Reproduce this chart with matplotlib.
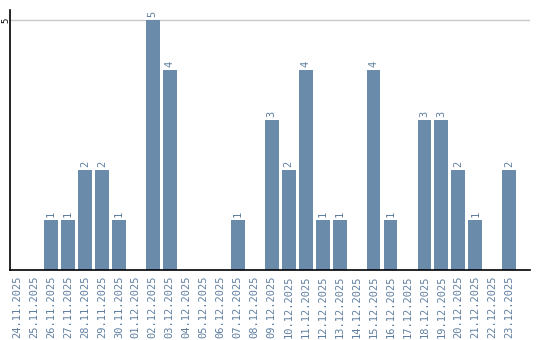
import matplotlib
matplotlib.use("Agg")
import matplotlib.pyplot as plt

dates = ['24.11.2025', '25.11.2025', '26.11.2025', '27.11.2025', '28.11.2025',
         '29.11.2025', '30.11.2025', '01.12.2025', '02.12.2025', '03.12.2025',
         '04.12.2025', '05.12.2025', '06.12.2025', '07.12.2025', '08.12.2025',
         '09.12.2025', '10.12.2025', '11.12.2025', '12.12.2025', '13.12.2025',
         '14.12.2025', '15.12.2025', '16.12.2025', '17.12.2025', '18.12.2025',
         '19.12.2025', '20.12.2025', '21.12.2025', '22.12.2025', '23.12.2025']
counts = [0, 0, 1, 1, 2, 2, 1, 0, 5, 4,
          0, 0, 0, 1, 0, 3, 2, 4, 1, 1,
          0, 4, 1, 0, 3, 3, 2, 1, 0, 2]

bar_color = '#6a8caa'
label_color = '#5f7fa0'

fig = plt.figure(figsize=(5.4, 3.4), dpi=100)
ax = fig.add_axes([0.0185, 0.206, 0.9625, 0.764])

x = list(range(len(dates)))
ax.bar(x, counts, width=0.82, color=bar_color, zorder=2)

# подписи значений над столбцами
for xi, c in zip(x, counts):
    if c > 0:
        ax.text(xi, c + 0.06, str(c), rotation=90, ha='center', va='bottom',
                fontsize=7.5, color=label_color, family='DejaVu Sans Mono')

ax.set_xlim(-0.41, 30.2)
ax.set_ylim(0, 5.2)
ax.set_xticks(x)
ax.set_xticklabels(dates, rotation=90, fontsize=7.5, color=label_color,
                   family='DejaVu Sans Mono')
ax.set_yticks([5])
ax.set_yticklabels(['5'], rotation=90, fontsize=6.5, va='center',
                   family='DejaVu Sans Mono')
ax.tick_params(axis='x', length=0, pad=4)
ax.tick_params(axis='y', length=0, pad=0)

ax.axhline(5, color='#c8c8c8', linewidth=1, zorder=1)
ax.spines['top'].set_visible(False)
ax.spines['right'].set_visible(False)
ax.spines['left'].set_linewidth(1.2)
ax.spines['bottom'].set_linewidth(1.2)

plt.savefig('out.png', dpi=100)
plt.close()
